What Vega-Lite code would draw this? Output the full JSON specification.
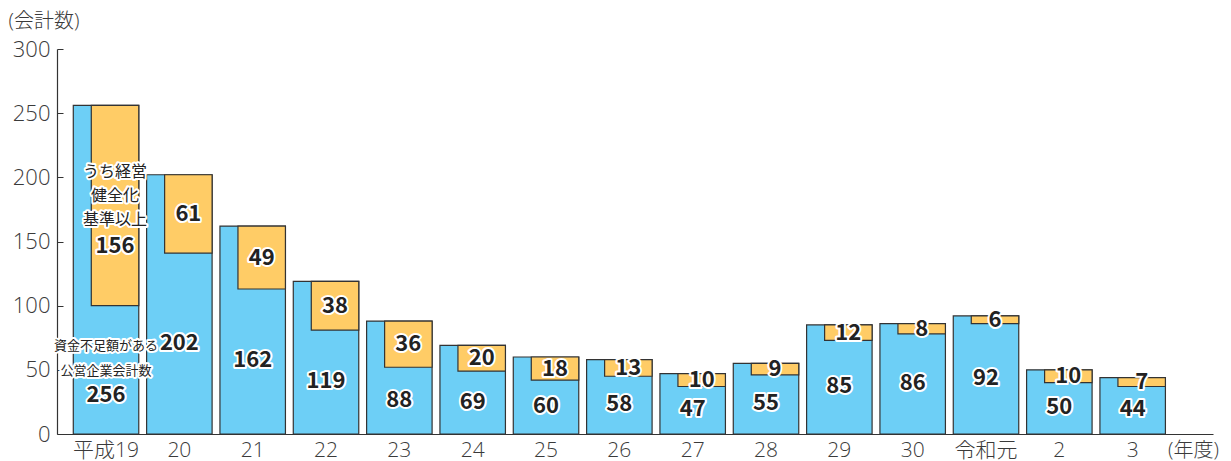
{
  "$schema": "https://vega.github.io/schema/vega-lite/v6.json",
  "width": 1156,
  "height": 385,
  "autosize": "none",
  "padding": {"left": 57, "top": 49, "right": 18, "bottom": 27},
  "background": "white",
  "config": {
    "view": {"stroke": null},
    "font": "Noto Sans CJK JP",
    "text": {"font": "Noto Sans CJK JP"}
  },
  "data": {
    "values": [
      {"year": "平成19", "total": 256, "sub": 156, "base": 100, "bnote": "資金不足額がある\n公営企業会計数", "onote": "うち経営\n健全化\n基準以上"},
      {"year": "20", "total": 202, "sub": 61, "base": 141},
      {"year": "21", "total": 162, "sub": 49, "base": 113},
      {"year": "22", "total": 119, "sub": 38, "base": 81},
      {"year": "23", "total": 88, "sub": 36, "base": 52},
      {"year": "24", "total": 69, "sub": 20, "base": 49},
      {"year": "25", "total": 60, "sub": 18, "base": 42},
      {"year": "26", "total": 58, "sub": 13, "base": 45},
      {"year": "27", "total": 47, "sub": 10, "base": 37},
      {"year": "28", "total": 55, "sub": 9, "base": 46},
      {"year": "29", "total": 85, "sub": 12, "base": 73},
      {"year": "30", "total": 86, "sub": 8, "base": 78},
      {"year": "令和元", "total": 92, "sub": 6, "base": 86},
      {"year": "2", "total": 50, "sub": 10, "base": 40},
      {"year": "3", "total": 44, "sub": 7, "base": 37}
    ]
  },
  "transform": [
    {"calculate": "datum.base / 2", "as": "bmid"},
    {"calculate": "(datum.total + datum.base) / 2", "as": "omid"},
    {"calculate": "datum.year === '平成19'", "as": "first"}
  ],
  "encoding": {
    "x": {
      "field": "year",
      "type": "nominal",
      "sort": null,
      "scale": {"paddingInner": 0.107, "paddingOuter": 0.4355, "align": 0.255},
      "axis": {
        "title": "(年度)",
        "titleX": 1136,
        "titleY": 16,
        "titleAlign": "center",
        "titleBaseline": "middle",
        "titleFont": "Open Sans, Noto Sans CJK JP",
        "titleFontSize": 20,
        "titleFontWeight": 300,
        "titleColor": "#3a3a3a",
        "labelAngle": 0,
        "labelFont": "Open Sans, Noto Sans CJK JP",
        "labelFontSize": 21,
        "labelFontWeight": 300,
        "labelColor": "#3a3a3a",
        "labelPadding": 5,
        "ticks": false,
        "domainColor": "#333333",
        "domainWidth": 1.2
      }
    }
  },
  "layer": [
    {
      "mark": {"type": "bar", "fill": "#6DCFF6", "stroke": "#333333", "strokeWidth": 1.2},
      "encoding": {
        "y": {
          "field": "total",
          "type": "quantitative",
          "scale": {"domain": [0, 300], "nice": false},
          "axis": {
            "values": [0, 50, 100, 150, 200, 250, 300],
            "grid": false,
            "title": "(会計数)",
            "titleAngle": 0,
            "titleX": -49,
            "titleY": -28,
            "titleAlign": "left",
            "titleBaseline": "middle",
            "titleFont": "Open Sans, Noto Sans CJK JP",
            "titleFontSize": 20,
            "titleFontWeight": 300,
            "titleColor": "#3a3a3a",
            "labelFont": "Open Sans",
            "labelFontSize": 22,
            "labelFontWeight": 300,
            "labelColor": "#3a3a3a",
            "tickSize": -6,
            "tickColor": "#333333",
            "labelPadding": 13,
            "domainColor": "#333333",
            "domainWidth": 1.2
          }
        }
      }
    },
    {
      "mark": {"type": "bar", "fill": "#FFCC66", "stroke": "#333333", "strokeWidth": 1.2, "xOffset": 9, "width": {"band": 0.725}},
      "encoding": {
        "y": {"field": "total", "type": "quantitative"},
        "y2": {"field": "base"}
      }
    },
    {
      "transform": [{"filter": "!datum.first"}],
      "mark": {"type": "text", "xOffset": 9, "fontSize": 22, "fontWeight": "bold", "baseline": "middle", "stroke": "white", "strokeWidth": 4, "strokeJoin": "round", "fill": "white"},
      "encoding": {"y": {"field": "omid", "type": "quantitative"}, "text": {"field": "sub"}}
    },
    {
      "transform": [{"filter": "!datum.first"}],
      "mark": {"type": "text", "xOffset": 9, "fontSize": 22, "fontWeight": "bold", "baseline": "middle", "fill": "#222222"},
      "encoding": {"y": {"field": "omid", "type": "quantitative"}, "text": {"field": "sub"}}
    },
    {
      "transform": [{"filter": "!datum.first"}],
      "mark": {"type": "text", "dy": -1, "fontSize": 22, "fontWeight": "bold", "baseline": "middle", "stroke": "white", "strokeWidth": 4, "strokeJoin": "round", "fill": "white"},
      "encoding": {"y": {"field": "bmid", "type": "quantitative"}, "text": {"field": "total"}}
    },
    {
      "transform": [{"filter": "!datum.first"}],
      "mark": {"type": "text", "dy": -1, "fontSize": 22, "fontWeight": "bold", "baseline": "middle", "fill": "#222222"},
      "encoding": {"y": {"field": "bmid", "type": "quantitative"}, "text": {"field": "total"}}
    },
    {
      "transform": [{"filter": "datum.first"}],
      "mark": {"type": "text", "xOffset": 9, "dy": -34, "fontSize": 16, "lineHeight": 24, "lineBreak": "\n", "baseline": "middle", "stroke": "white", "strokeWidth": 4, "strokeJoin": "round", "fill": "white"},
      "encoding": {"y": {"field": "omid", "type": "quantitative"}, "text": {"field": "onote"}}
    },
    {
      "transform": [{"filter": "datum.first"}],
      "mark": {"type": "text", "xOffset": 9, "dy": -34, "fontSize": 16, "lineHeight": 24, "lineBreak": "\n", "baseline": "middle", "fill": "#222222"},
      "encoding": {"y": {"field": "omid", "type": "quantitative"}, "text": {"field": "onote"}}
    },
    {
      "transform": [{"filter": "datum.first"}],
      "mark": {"type": "text", "xOffset": 9, "dy": 40, "fontSize": 22, "fontWeight": "bold", "baseline": "middle", "stroke": "white", "strokeWidth": 4, "strokeJoin": "round", "fill": "white"},
      "encoding": {"y": {"field": "omid", "type": "quantitative"}, "text": {"field": "sub"}}
    },
    {
      "transform": [{"filter": "datum.first"}],
      "mark": {"type": "text", "xOffset": 9, "dy": 40, "fontSize": 22, "fontWeight": "bold", "baseline": "middle", "fill": "#222222"},
      "encoding": {"y": {"field": "omid", "type": "quantitative"}, "text": {"field": "sub"}}
    },
    {
      "transform": [{"filter": "datum.first"}],
      "mark": {"type": "text", "dy": -24, "fontSize": 13, "lineHeight": 25, "lineBreak": "\n", "baseline": "middle", "stroke": "white", "strokeWidth": 4, "strokeJoin": "round", "fill": "white"},
      "encoding": {"y": {"field": "bmid", "type": "quantitative"}, "text": {"field": "bnote"}}
    },
    {
      "transform": [{"filter": "datum.first"}],
      "mark": {"type": "text", "dy": -24, "fontSize": 13, "lineHeight": 25, "lineBreak": "\n", "baseline": "middle", "fill": "#222222"},
      "encoding": {"y": {"field": "bmid", "type": "quantitative"}, "text": {"field": "bnote"}}
    },
    {
      "transform": [{"filter": "datum.first"}],
      "mark": {"type": "text", "dy": 25, "fontSize": 22, "fontWeight": "bold", "baseline": "middle", "stroke": "white", "strokeWidth": 4, "strokeJoin": "round", "fill": "white"},
      "encoding": {"y": {"field": "bmid", "type": "quantitative"}, "text": {"field": "total"}}
    },
    {
      "transform": [{"filter": "datum.first"}],
      "mark": {"type": "text", "dy": 25, "fontSize": 22, "fontWeight": "bold", "baseline": "middle", "fill": "#222222"},
      "encoding": {"y": {"field": "bmid", "type": "quantitative"}, "text": {"field": "total"}}
    }
  ]
}
